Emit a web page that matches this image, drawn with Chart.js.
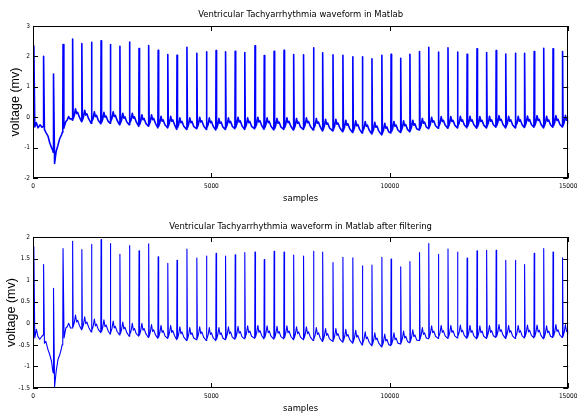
<!DOCTYPE html>
<html>
<head>
<meta charset="utf-8">
<title>Ventricular Tachyarrhythmia waveform</title>
<script src="https://cdn.jsdelivr.net/npm/chart.js@4.4.1/dist/chart.umd.min.js"></script>
<style>
  html, body { margin: 0; padding: 0; background: #fff; overflow: hidden; }
  body { width: 582px; height: 414px; position: relative; }
  .plot { position: absolute; left: 0; width: 582px; }
  #raw-wrap { top: 0; height: 207px; }
  #filtered-wrap { top: 207px; height: 212px; }
</style>
</head>
<body>
<div class="plot" id="raw-wrap"><canvas id="raw-ecg"></canvas></div>
<div class="plot" id="filtered-wrap"><canvas id="filtered-ecg"></canvas></div>
<script>
// R-peak positions (sample index), shared by both traces
const spikeAt = [28, 297, 575, 842, 1111, 1369, 1639, 1908, 2167, 2436, 2703, 2972, 3242, 3508,
  3778, 4036, 4314, 4592, 4861, 5131, 5397, 5667, 5936, 6222, 6481, 6758, 7036, 7306, 7583, 7861,
  8119, 8408, 8686, 8964, 9231, 9500, 9778, 10036, 10306, 10564, 10833, 11092, 11361, 11631,
  11897, 12167, 12444, 12714, 12981, 13250, 13519, 13778, 14047, 14314, 14575, 14842];

// raw signal: R-peak height and the level just before each beat (mv)
const rawPeak = [2.34, 2.0, 1.42, 2.39, 2.57, 2.42, 2.46, 2.51, 2.39, 2.33, 2.47, 2.26, 2.36, 2.2,
  2.06, 2.04, 2.3, 2.1, 2.15, 2.19, 2.15, 2.17, 2.13, 2.35, 2.03, 2.17, 2.2, 2.06, 2.05, 2.28,
  2.12, 2.05, 2.04, 1.99, 1.99, 1.92, 2.04, 2.07, 1.94, 2.07, 2.16, 2.3, 2.14, 2.28, 2.14, 2.07,
  2.25, 2.13, 2.19, 2.08, 2.1, 2.1, 2.16, 2.27, 2.25, 2.16];
const rawBase = [-0.3, -0.3, -1.15, -0.42, -0.1, -0.15, -0.2, -0.22, -0.2, -0.25, -0.25, -0.3,
  -0.3, -0.35, -0.35, -0.4, -0.4, -0.38, -0.4, -0.42, -0.4, -0.38, -0.4, -0.38, -0.4, -0.42, -0.4,
  -0.42, -0.4, -0.42, -0.45, -0.45, -0.48, -0.5, -0.52, -0.55, -0.58, -0.52, -0.5, -0.48, -0.42,
  -0.38, -0.36, -0.36, -0.35, -0.35, -0.36, -0.35, -0.33, -0.35, -0.35, -0.34, -0.33, -0.35,
  -0.33, -0.32];

// filtered signal
const filtPeak = [1.77, 1.36, 0.81, 1.73, 1.9, 1.71, 1.83, 1.94, 1.85, 1.6, 1.8, 1.68, 1.84, 1.54,
  1.39, 1.46, 1.72, 1.51, 1.56, 1.62, 1.56, 1.59, 1.64, 1.65, 1.48, 1.67, 1.65, 1.58, 1.56, 1.67,
  1.65, 1.41, 1.53, 1.52, 1.33, 1.35, 1.53, 1.49, 1.31, 1.43, 1.64, 1.85, 1.6, 1.72, 1.65, 1.51,
  1.68, 1.69, 1.69, 1.46, 1.46, 1.36, 1.62, 1.73, 1.65, 1.52];
const filtBase = [-0.3, -0.27, -1.15, -0.42, -0.11, -0.15, -0.2, -0.22, -0.25, -0.27, -0.3, -0.3,
  -0.33, -0.35, -0.35, -0.38, -0.4, -0.38, -0.4, -0.4, -0.38, -0.37, -0.36, -0.35, -0.36, -0.37,
  -0.36, -0.38, -0.38, -0.4, -0.42, -0.42, -0.44, -0.46, -0.5, -0.52, -0.55, -0.52, -0.48, -0.45,
  -0.4, -0.36, -0.35, -0.35, -0.34, -0.35, -0.36, -0.35, -0.33, -0.35, -0.35, -0.34, -0.34, -0.36,
  -0.33, -0.33];

// one beat: sample offsets from the R peak and level above the beat's base (mv)
const beatOffsets = [-8, 0, 14, 45, 80, 110, 140, 190];
const rawShape = [0, 0, 0.05, 0.15, 0.38, 0.22, 0.26, 0.1];
const filtShape = [0, 0, 0.03, 0.12, 0.3, 0.14, 0.18, 0.06];

// the first four beats ride on the baseline dip at the start of the record
const leadInBeats = 4;
const rawLeadIn = [[0, -0.1], [50, -0.32], [95, -0.18], [140, -0.35], [200, -0.25], [250, -0.33],
  [320, -0.4], [360, -0.5], [420, -0.62], [470, -0.85], [520, -1.0], [550, -1.08],
  [605, -1.52], [650, -1.12], [700, -0.92], [750, -0.7], [800, -0.58], [820, -0.5],
  [865, -0.36], [920, -0.14], [960, -0.09], [1000, 0.02], [1040, -0.06], [1080, -0.05]];
const filtLeadIn = [[0, -0.19], [50, -0.34], [95, -0.14], [140, -0.31], [190, -0.37], [250, -0.3],
  [320, -0.46], [360, -0.42], [420, -0.61], [470, -0.73], [520, -0.88], [555, -1.11],
  [605, -1.47], [650, -1.11], [700, -0.84], [750, -0.73], [790, -0.61], [815, -0.5],
  [870, -0.34], [920, -0.11], [960, -0.08], [1000, 0.0], [1050, -0.11]];

const xTicks = [0, 5000, 10000, 15000];
const rawYTicks = [-2, -1, 0, 1, 2, 3];
const filtYTicks = [-1.5, -1, -0.5, 0, 0.5, 1, 1.5, 2];

const NARROW = '"DejaVu Sans Condensed", "Liberation Sans", Arial, sans-serif';
const REGULAR = '"Liberation Sans", Arial, sans-serif';

// Build the trace points for one signal
function buildTrace(peaks, bases, shape, leadIn) {
  const pts = leadIn.map((p) => ({ x: p[0], y: p[1] }));
  spikeAt.forEach((s, i) => {
    beatOffsets.forEach((off, k) => {
      if (i < leadInBeats && k > 1) return;
      const y = k === 1 ? peaks[i] : bases[i] + shape[k];
      pts.push({ x: s + off, y: y });
    });
  });
  return pts.sort((a, b) => a.x - b.x);
}

// Matlab style box with inward tick marks on all four sides
const boxTicks = {
  id: "boxTicks",
  afterDatasetsDraw(chart) {
    const { ctx, chartArea: a, scales } = chart;
    const len = 5;
    ctx.save();
    ctx.strokeStyle = "#000";
    ctx.lineWidth = 1;
    ctx.beginPath();
    scales.x.ticks.forEach((t) => {
      const px = Math.round(scales.x.getPixelForValue(t.value)) + 0.5;
      ctx.moveTo(px, a.bottom);
      ctx.lineTo(px, a.bottom - len);
      ctx.moveTo(px, a.top);
      ctx.lineTo(px, a.top + len);
    });
    scales.y.ticks.forEach((t) => {
      const py = Math.round(scales.y.getPixelForValue(t.value)) + 0.5;
      ctx.moveTo(a.left, py);
      ctx.lineTo(a.left + len, py);
      ctx.moveTo(a.right, py);
      ctx.lineTo(a.right - len, py);
    });
    ctx.stroke();
    ctx.strokeRect(Math.round(a.left) + 0.5, Math.round(a.top) + 0.5,
      Math.round(a.width) - 1, Math.round(a.height) - 1);
    ctx.restore();
  },
};

function drawPanel(id, cfg) {
  const ctx = document.getElementById(id).getContext("2d");
  new Chart(ctx, {
    type: "line",
    data: {
      datasets: [
        {
          data: cfg.points,
          borderColor: "#0000ff",
          borderWidth: cfg.lineWidth,
          borderJoinStyle: "round",
          borderCapStyle: "round",
          pointRadius: 0,
          tension: 0,
          fill: false,
        },
      ],
    },
    options: {
      animation: false,
      responsive: true,
      maintainAspectRatio: false,
      devicePixelRatio: 1,
      layout: { padding: { left: 0, right: 9, top: 0, bottom: 0 } },
      plugins: {
        legend: { display: false },
        tooltip: { enabled: false },
        title: {
          display: true,
          fullSize: false,
          text: cfg.title,
          color: "#000",
          font: { family: NARROW, size: 9.4, weight: "normal", lineHeight: 1 },
          padding: cfg.titlePad,
        },
      },
      scales: {
        x: {
          type: "linear",
          min: 0,
          max: 15000,
          afterBuildTicks: (s) => {
            s.ticks = xTicks.map((v) => ({ value: v }));
          },
          afterFit: (s) => {
            s.height = cfg.xHeight;
          },
          grid: { display: false, drawTicks: false },
          border: { display: false },
          ticks: {
            color: "#000",
            font: { family: NARROW, size: 6.5 },
            padding: 4.5,
            maxRotation: 0,
            autoSkip: false,
            callback: (v) => String(v),
          },
          title: {
            display: true,
            text: "samples",
            color: "#000",
            font: { family: NARROW, size: 9.4, lineHeight: 1 },
            padding: { top: 0, bottom: cfg.xTitlePad },
          },
        },
        y: {
          type: "linear",
          min: cfg.yMin,
          max: cfg.yMax,
          afterBuildTicks: (s) => {
            s.ticks = cfg.yTicks.map((v) => ({ value: v }));
          },
          afterFit: (s) => {
            s.width = 33;
          },
          grid: { display: false, drawTicks: false },
          border: { display: false },
          ticks: {
            color: "#000",
            font: { family: NARROW, size: 6.5 },
            padding: 3,
            autoSkip: false,
            callback: (v) => String(v),
          },
          title: {
            display: true,
            text: "voltage (mv)",
            color: "#000",
            font: { family: REGULAR, size: 12.5, lineHeight: 1 },
            padding: { top: cfg.yTitlePad, bottom: 0 },
          },
        },
      },
    },
    plugins: [boxTicks],
  });
}

drawPanel("raw-ecg", {
  points: buildTrace(rawPeak, rawBase, rawShape, rawLeadIn),
  lineWidth: 1.6,
  title: "Ventricular Tachyarrhythmia waveform in Matlab",
  titlePad: { top: 10, bottom: 6.6 },
  xHeight: 29,
  xTitlePad: 3.3,
  yMin: -2,
  yMax: 3,
  yTicks: rawYTicks,
  yTitlePad: 9.75,
});

drawPanel("filtered-ecg", {
  points: buildTrace(filtPeak, filtBase, filtShape, filtLeadIn),
  lineWidth: 1.1,
  title: "Ventricular Tachyarrhythmia waveform in Matlab after filtering",
  titlePad: { top: 15, bottom: 5.6 },
  xHeight: 31,
  xTitlePad: 5.3,
  yMin: -1.5,
  yMax: 2,
  yTicks: filtYTicks,
  yTitlePad: 5.25,
});
</script>
</body>
</html>
